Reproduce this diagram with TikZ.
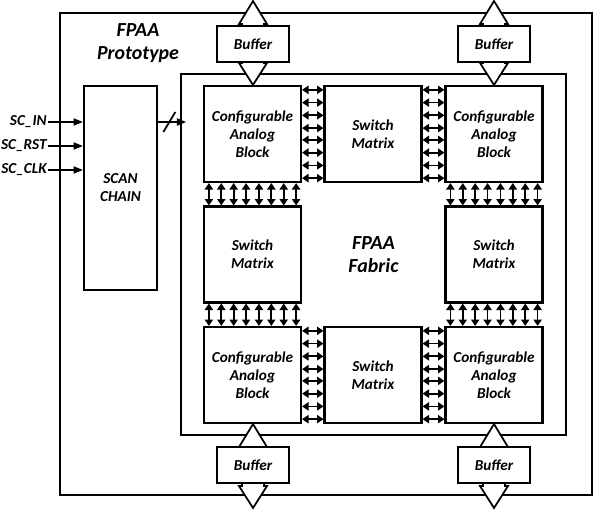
\documentclass[tikz,border=0pt]{standalone}
\usepackage{fontspec}
\setmainfont{Carlito}
\usetikzlibrary{arrows.meta,calc}

\pgfdeclarelayer{frames}
\pgfdeclarelayer{links}
\pgfsetlayers{frames,links,main}

% wide hollow double arrow between two tips on one vertical line
\newcommand{\fatarrow}[2]{%
  \draw[fatarrow] #1 -- ++(14,23) -- ++(-3,0) -- ($#2+(11,-22)$) -- ++(3,0)
    -- #2 -- ++(-14,-22) -- ++(3,0) -- ($#1+(-11,23)$) -- ++(-3,0) -- cycle;}

\begin{document}
\begin{tikzpicture}[x=0.03cm, y=-0.03cm,
    every node/.style={font=\bfseries\itshape\fontsize{13}{15.3}\selectfont, align=center},
    big/.style={font=\bfseries\itshape\fontsize{17}{19.5}\selectfont},
    frame/.style={draw, line width=1.3pt, inner sep=0pt},
    block/.style={draw, line width=1.8pt, fill=white, minimum width=2.91cm, minimum height=2.88cm},
    buffer/.style={draw, line width=1.8pt, fill=white, minimum width=2.16cm, minimum height=1.08cm},
    fatarrow/.style={line width=1.5pt, fill=white, line join=miter},
    bus/.style={line width=1.5pt, {Triangle[length=5.5pt,width=7pt]}-{Triangle[length=5.5pt,width=7pt]}},
    sig/.style={line width=1.5pt, -{Triangle[length=8pt,width=6pt]}}]
    \useasboundingbox (0,0) rectangle (594,509);

    % Frames
    \begin{pgfonlayer}{frames}
        \node[frame, minimum width=15.96cm, minimum height=14.46cm] (proto) at (326,254) {};
        \node[frame, big, minimum width=11.55cm, minimum height=10.83cm] (fabric) at (373.5,254.5) {FPAA\\Fabric};
    \end{pgfonlayer}
    \node[big] (title) at (138,43) {FPAA\\Prototype};

    % Fabric blocks
    \node[block] (cabTL) at (252.5,134) {Configurable\\Analog\\Block};
    \node[block] (smT) at (373,134) {Switch\\Matrix};
    \node[block] (cabTR) at (494,134) {Configurable\\Analog\\Block};
    \node[block] (smL) at (252.5,254.5) {Switch\\Matrix};
    \node[block] (smR) at (494,254.5) {Switch\\Matrix};
    \node[block] (cabBL) at (252.5,375) {Configurable\\Analog\\Block};
    \node[block] (smB) at (373,375) {Switch\\Matrix};
    \node[block] (cabBR) at (494,375) {Configurable\\Analog\\Block};

    % Buffers
    \node[buffer] (bufTL) at (253,44) {Buffer};
    \node[buffer] (bufTR) at (494,44) {Buffer};
    \node[buffer] (bufBL) at (253,465) {Buffer};
    \node[buffer] (bufBR) at (494,465) {Buffer};

    \coordinate (edgeT) at (0,1);
    \coordinate (edgeB) at (0,508);
    \begin{pgfonlayer}{links}
        \fatarrow{(bufTL |- edgeT)}{(bufTL |- cabTL.north)}
        \fatarrow{(bufTR |- edgeT)}{(bufTR |- cabTR.north)}
        \fatarrow{(bufBL |- cabBL.south)}{(bufBL |- edgeB)}
        \fatarrow{(bufBR |- cabBR.south)}{(bufBR |- edgeB)}
    \end{pgfonlayer}

    % Buses between blocks
    \foreach \a/\b in {cabTL/smT, smT/cabTR, cabBL/smB, smB/cabBR}
        \foreach \f in {0.05,0.18,0.31,0.44,0.56,0.69,0.82,0.95}
            \draw[bus] ($(\a.north east)!\f!(\a.south east)$) -- ($(\b.north west)!\f!(\b.south west)$);
    \foreach \a/\b in {cabTL/smL, smL/cabBL, cabTR/smR, smR/cabBR}
        \foreach \f in {0.06,0.185,0.31,0.435,0.565,0.69,0.815,0.94}
            \draw[bus] ($(\a.south west)!\f!(\a.south east)$) -- ($(\b.north west)!\f!(\b.north east)$);

    % Scan chain
    \node[draw, line width=1.8pt, minimum width=2.19cm, minimum height=6.12cm] (scan) at (120.5,188) {SCAN\\CHAIN};
    \node[anchor=east, inner sep=1pt] (scin) at (48,122) {SC\_IN};
    \node[anchor=east, inner sep=1pt] (scrst) at (48,146) {SC\_RST};
    \node[anchor=east, inner sep=1pt] (scclk) at (48,170) {SC\_CLK};
    \foreach \s in {scin,scrst,scclk}
        \draw[sig] (\s) -- (\s -| scan.west);

    \draw[sig] (scan.east |- scin) -- coordinate[pos=0.4] (tick) ($(fabric.west |- scin)+(6,0)$);
    \draw[line width=1.5pt] ($(tick)+(-6,10)$) -- ($(tick)+(6,-10)$);
\end{tikzpicture}
\end{document}
